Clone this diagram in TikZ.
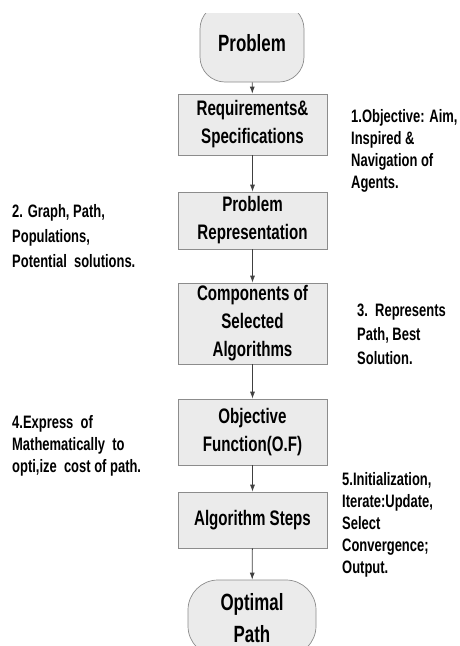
\documentclass[tikz,border=0pt]{standalone}
\usepackage{fontspec}
\setmainfont{Liberation Sans}[FakeStretch=0.72]
\usetikzlibrary{arrows.meta}

\tikzset{
  stepbox/.style={draw=black!45, fill=black!8, line width=0.7, minimum width=149,
    inner sep=0, align=center, font=\bfseries\fontsize{21}{28}\selectfont},
  endbox/.style={stepbox, rounded corners=25, font=\bfseries\fontsize{23.5}{32}\selectfont},
  note/.style={anchor=north west, inner sep=0, align=left,
    font=\bfseries\fontsize{18}{22}\selectfont},
  flow/.style={draw=black!75, line width=0.8, -{Latex[length=7,width=5]}}
}

\begin{document}
\begin{tikzpicture}[x=1pt, y=-1pt]
  \useasboundingbox (0,0) rectangle (460,646);
  \clip (0,13) rectangle (460,646);

  % main flow
  \node[endbox, minimum width=104, minimum height=78] (prob) at ({252}, 43) {Problem};
  \node[stepbox, minimum height=61] (req) at ({252.5}, 124.5) {Requirements\&\\Specifications};
  \node[stepbox, minimum height=57] (rep) at ({252.5}, 220.5) {Problem\\Representation};
  \node[stepbox, minimum height=81] (comp) at ({252.5}, 323.5) {Components of\\Selected\\Algorithms};
  \node[stepbox, minimum height=66] (obj) at ({252.5}, 432) {Objective\\Function(O.F)};
  \node[stepbox, minimum height=56] (alg) at ({252.5}, 520) {Algorithm Steps};
  \node[endbox, minimum width=128, minimum height=76, rounded corners=30] (opt) at ({252}, 618) {Optimal\\Path};

  \foreach \a/\b in {prob/req, req/rep, rep/comp, comp/obj, obj/alg, alg/opt}
    \draw[flow] (\a) -- (\b);

  % notes beside the steps
  \node[note] (note1) at ({351}, 109) {1.Objective: Aim,\\Inspired \&\\Navigation of\\Agents.};
  \node[note, font=\bfseries\fontsize{18}{25}\selectfont] (note2) at ({12}, 204) {2. Graph, Path,\\Populations,\\Potential\ \ solutions.};
  \node[note, font=\bfseries\fontsize{18}{24}\selectfont] (note3) at ({357}, 304) {3.\ \ Represents\\Path, Best\\Solution.};
  \node[note] (note4) at ({12}, 415) {4.Express\ \ of\\Mathematically\ \ to\\opti,ize\ \ cost of path.};
  \node[note] (note5) at ({342}, 472) {5.Initialization,\\Iterate:Update,\\Select\\Convergence;\\Output.};

\end{tikzpicture}
\end{document}
